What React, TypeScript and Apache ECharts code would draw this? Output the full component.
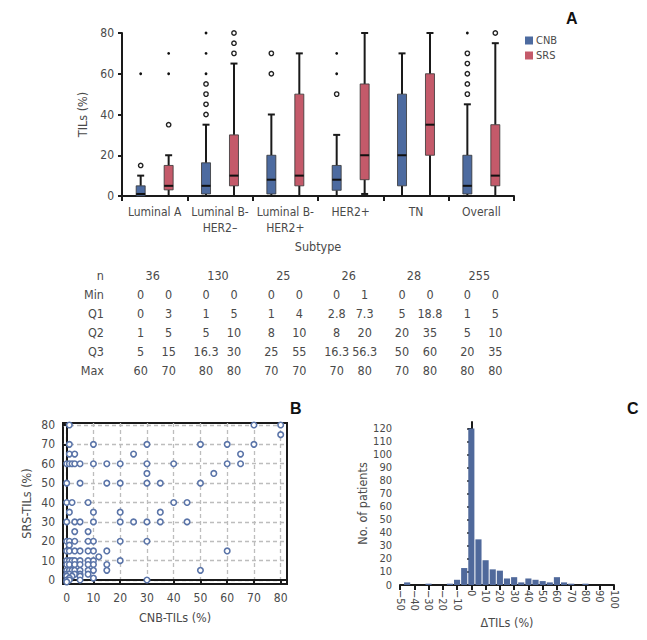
import { useEffect, useRef } from 'react';
import * as echarts from 'echarts';

const FONT = "'Liberation Sans Narrow', 'DejaVu Sans Condensed', 'Liberation Sans', sans-serif";
const TEXT = '#4a4a4a';
const CNB_COLOR = '#4d6ba0';
const SRS_COLOR = '#c45a6a';
const DOT_BLUE = '#5a74a8';
const HIST_COLOR = '#50699b';

// ---------- Panel A data ----------
const subtypes = ['Luminal A', 'Luminal B-\nHER2–', 'Luminal B-\nHER2+', 'HER2+', 'TN', 'Overall'];
// [whisker low, Q1, median, Q3, whisker high]
const cnbBox = [
  [0, 0, 1, 5, 10],
  [0, 1, 5, 16.3, 35],
  [0, 1, 8, 20, 40],
  [0, 2.8, 8, 15, 30],
  [0, 5, 20, 50, 70],
  [0, 1, 5, 20, 45],
];
const srsBox = [
  [0, 3, 5, 15, 20],
  [0, 5, 10, 30, 65],
  [0, 5, 10, 50, 70],
  [1, 8, 20, 55, 80],
  [0, 20, 35, 60, 80],
  [0, 5, 10, 35, 75],
];
const cnbOutOpen = [[0, 15], [1, 40], [1, 45], [1, 50], [1, 55], [2, 60], [2, 70], [3, 50], [5, 50], [5, 55], [5, 60], [5, 65], [5, 70]];
const cnbOutDot = [[0, 60], [1, 60], [1, 70], [1, 80], [3, 60], [3, 70], [5, 80]];
const srsOutOpen = [[0, 35], [1, 70], [1, 75], [1, 80], [5, 80]];
const srsOutDot = [[0, 60], [0, 70]];
const yTicksA = [0, 20, 40, 60, 80];

// ---------- Table data ----------
const tableN = [36, 130, 25, 26, 28, 255];
const rowLabels = ['Min', 'Q1', 'Q2', 'Q3', 'Max'];
const minCNB = [0, 0, 0, 0, 0, 0];
const minSRS = [0, 0, 0, 1, 0, 0];
const q1CNB = [0, 1, 1, 2.8, 5, 1];
const q1SRS = [3, 5, 4, 7.3, 18.8, 5];
const q2CNB = [1, 5, 8, 8, 20, 5];
const q2SRS = [5, 10, 10, 20, 35, 10];
const q3CNB = [5, 16.3, 25, 16.3, 50, 20];
const q3SRS = [15, 30, 55, 56.3, 60, 35];
const maxCNB = [60, 80, 70, 70, 70, 80];
const maxSRS = [70, 80, 70, 80, 80, 80];

// ---------- Panel B data ----------
const scatterTicks = [0, 10, 20, 30, 40, 50, 60, 70, 80];
const scatterPoints = [
  [1, 80], [70, 80], [80, 80], [80, 75],
  [1, 70], [10, 70], [30, 70], [50, 70], [60, 70], [70, 70],
  [1, 65], [3, 65], [25, 65], [65, 65],
  [0, 60], [1, 60], [2, 60], [3, 60], [5, 60], [10, 60], [15, 60], [20, 60], [30, 60], [40, 60], [60, 60], [65, 60],
  [30, 55], [55, 55],
  [0, 50], [5, 50], [15, 50], [20, 50], [30, 50], [35, 50], [50, 50],
  [0, 40], [2, 40], [8, 40], [40, 40], [45, 40],
  [1, 35], [10, 35], [20, 35], [35, 35],
  [0, 30], [3, 30], [5, 30], [10, 30], [20, 30], [25, 30], [30, 30], [35, 30], [45, 30],
  [3, 25], [8, 25],
  [0, 20], [1, 20], [3, 20], [8, 20], [10, 20], [20, 20], [30, 20],
  [1, 18],
  [0, 15], [1, 15], [3, 15], [5, 15], [8, 15], [10, 15], [15, 15], [60, 15],
  [12, 12],
  [0, 10], [1, 10], [2, 10], [3, 10], [5, 10], [8, 10], [10, 10], [20, 10],
  [0, 8], [1, 8], [3, 8], [5, 8], [8, 8], [10, 8], [15, 8],
  [0, 5], [1, 5], [2, 5], [3, 5], [5, 5], [8, 5], [10, 5], [15, 5], [50, 5],
  [0, 3], [1, 3], [3, 3], [5, 3], [8, 3],
  [0, 2], [2, 2], [5, 2],
  [1, 1], [10, 1],
  [0, 0], [1, 0], [5, 0], [30, 0], [0, -1],
];

// ---------- Panel C data ----------
const histBins = [-45, -30, -15, -10, -5, 0, 5, 10, 15, 20, 25, 30, 35, 40, 45, 50, 55, 60, 65, 70, 80];
const histCounts = [2, 1, 1, 4, 13, 120, 35, 19, 12, 11, 5, 6, 2, 5, 4, 3, 2, 6, 2, 1, 1];
const histYTicks = [0, 10, 20, 30, 40, 50, 60, 70, 80, 90, 100, 110, 120];
const histBinWidth = 5;

// layout
const A = { left: 122, top: 33, width: 392, height: 163 };
const B = { left: 63, top: 423, width: 224, height: 161 };
const C = { left: 400, top: 422, width: 214, height: 163 };
const SIDE_OFF = 0.214;

const fmt = (v: number) => (v < 0 ? '−' + Math.abs(v) : String(v));

function boxRender(side: number, color: string) {
  return (params: any, api: any) => {
    const cat = api.value(0);
    const band = api.size([1, 0])[0];
    const cx = api.coord([cat, 0])[0] + side * band * SIDE_OFF;
    const y = (i: number) => api.coord([cat, api.value(i)])[1];
    const yMin = y(1), yQ1 = y(2), yMed = y(3), yQ3 = y(4), yMax = y(5);
    const hw = 4.5, cw = 3.5;
    const ls = { stroke: '#1a1a1a', lineWidth: 2 };
    return {
      type: 'group',
      children: [
        { type: 'line', shape: { x1: cx, y1: yMin, x2: cx, y2: yQ1 }, style: ls },
        { type: 'line', shape: { x1: cx, y1: yQ3, x2: cx, y2: yMax }, style: ls },
        { type: 'line', shape: { x1: cx - cw, y1: yMax, x2: cx + cw, y2: yMax }, style: ls },
        { type: 'line', shape: { x1: cx - cw, y1: yMin, x2: cx + cw, y2: yMin }, style: ls },
        { type: 'rect', shape: { x: cx - hw, y: yQ3, width: hw * 2, height: yQ1 - yQ3 }, style: { fill: color, stroke: '#333', lineWidth: 0.8 } },
        { type: 'line', shape: { x1: cx - hw, y1: yMed, x2: cx + hw, y2: yMed }, style: { stroke: '#111', lineWidth: 2 } },
      ],
    };
  };
}

function outRender(side: number, open: boolean) {
  return (params: any, api: any) => {
    const band = api.size([1, 0])[0];
    const p = api.coord([api.value(0), api.value(1)]);
    const cx = p[0] + side * band * SIDE_OFF;
    return open
      ? { type: 'circle', shape: { cx, cy: p[1], r: 2.2 }, style: { fill: '#fff', stroke: '#222', lineWidth: 1.4 } }
      : { type: 'circle', shape: { cx, cy: p[1], r: 1.4 }, style: { fill: '#111' } };
  };
}

export default function App() {
  const ref = useRef<HTMLDivElement>(null);
  useEffect(() => {
    if (!ref.current) return;
    const chart = echarts.init(ref.current, undefined, { renderer: 'svg' });

    const band = A.width / subtypes.length;
    const tableTexts: any[] = [];
    const rowY0 = 275;
    const rowStep = 19;
    const labelStyle = { fontFamily: FONT, fontSize: 12.5, fill: TEXT };
    tableTexts.push({ type: 'text', x: 104, y: rowY0, style: { ...labelStyle, text: 'n', align: 'right', verticalAlign: 'middle' } });
    tableN.forEach((n, i) => {
      tableTexts.push({ type: 'text', x: A.left + band * (i + 0.5) - 2, y: rowY0, style: { ...labelStyle, text: String(n), align: 'center', verticalAlign: 'middle' } });
    });
    const rows = [[minCNB, minSRS], [q1CNB, q1SRS], [q2CNB, q2SRS], [q3CNB, q3SRS], [maxCNB, maxSRS]];
    rows.forEach((r, ri) => {
      const yy = rowY0 + rowStep * (ri + 1);
      tableTexts.push({ type: 'text', x: 104, y: yy, style: { ...labelStyle, text: rowLabels[ri], align: 'right', verticalAlign: 'middle' } });
      for (let i = 0; i < subtypes.length; i++) {
        const c = A.left + band * (i + 0.5);
        tableTexts.push({ type: 'text', x: c - band * SIDE_OFF, y: yy, style: { ...labelStyle, text: String(r[0][i]), align: 'center', verticalAlign: 'middle' } });
        tableTexts.push({ type: 'text', x: c + band * SIDE_OFF, y: yy, style: { ...labelStyle, text: String(r[1][i]), align: 'center', verticalAlign: 'middle' } });
      }
    });
    const letterStyle = { fontFamily: "'Liberation Sans', Arial, sans-serif", fontSize: 16, fontWeight: 'bold', fill: '#111' };
    const letters = [
      { type: 'text', x: 566, y: 10, style: { ...letterStyle, text: 'A' } },
      { type: 'text', x: 290, y: 400, style: { ...letterStyle, text: 'B' } },
      { type: 'text', x: 627, y: 400, style: { ...letterStyle, text: 'C' } },
    ];

    const axisLine = { show: true, lineStyle: { color: '#1a1a1a', width: 2 } };
    const axisTick = (len: number, extra: any = {}) => ({ show: true, length: len, lineStyle: { color: '#1a1a1a', width: 2 }, ...extra });
    const axLabel = (extra: any = {}) => ({ fontFamily: FONT, fontSize: 12, color: TEXT, ...extra });
    const nameStyle = { fontFamily: FONT, fontSize: 12.5, color: TEXT };

    chart.setOption({
      animation: false,
      textStyle: { fontFamily: FONT },
      grid: [
        { ...A, containLabel: false },
        { ...B, containLabel: false, show: true, borderColor: '#1a1a1a', borderWidth: 2, backgroundColor: 'transparent' },
        { ...C, containLabel: false },
      ],
      legend: {
        data: ['CNB', 'SRS'],
        orient: 'vertical',
        left: 520,
        top: 30,
        icon: 'rect',
        itemWidth: 8,
        itemHeight: 8,
        itemGap: 4,
        textStyle: { fontFamily: FONT, fontSize: 11, color: TEXT, padding: [0, 0, 0, -2] },
      },
      xAxis: [
        {
          gridIndex: 0,
          type: 'category',
          data: subtypes,
          boundaryGap: true,
          axisLine,
          axisTick: axisTick(5),
          axisLabel: axLabel({ fontSize: 12, lineHeight: 16, margin: 8, interval: 0 }),
          name: 'Subtype',
          nameLocation: 'middle',
          nameGap: 44,
          nameTextStyle: nameStyle,
        },
        {
          gridIndex: 1,
          type: 'value',
          min: -1.38,
          max: 82.36,
          axisLine,
          axisTick: axisTick(4, { customValues: scatterTicks }),
          axisLabel: axLabel({ fontSize: 12, margin: 8, customValues: scatterTicks }),
          splitLine: { show: true, lineStyle: { color: '#bdbdbd', width: 1.3, type: [4, 3] } },
          name: 'CNB-TILs (%)',
          nameLocation: 'middle',
          nameGap: 27,
          nameTextStyle: nameStyle,
        },
        {
          gridIndex: 2,
          type: 'value',
          min: -50,
          max: 100,
          interval: 10,
          axisLine,
          axisTick: axisTick(5),
          axisLabel: axLabel({ fontSize: 11, lineHeight: 12, margin: 5, rotate: -90, formatter: (v: number) => fmt(v) }),
          splitLine: { show: false },
          name: 'ΔTILs (%)',
          nameLocation: 'middle',
          nameGap: 31,
          nameTextStyle: nameStyle,
        },
      ],
      yAxis: [
        {
          gridIndex: 0,
          type: 'value',
          min: 0,
          max: 80,
          interval: 20,
          axisLine,
          axisTick: axisTick(4, { customValues: yTicksA }),
          axisLabel: axLabel({ fontSize: 12, margin: 8 }),
          splitLine: { show: false },
          name: 'TILs (%)',
          nameLocation: 'middle',
          nameGap: 30,
          nameTextStyle: nameStyle,
        },
        {
          gridIndex: 1,
          type: 'value',
          min: -2.06,
          max: 81.03,
          axisLine,
          axisTick: axisTick(4, { customValues: scatterTicks }),
          axisLabel: axLabel({ fontSize: 12, margin: 8, customValues: scatterTicks }),
          splitLine: { show: true, lineStyle: { color: '#bdbdbd', width: 1.3, type: [4, 3] } },
          name: 'SRS-TILs (%)',
          nameLocation: 'middle',
          nameGap: 30,
          nameTextStyle: nameStyle,
        },
        {
          gridIndex: 2,
          type: 'value',
          min: 0,
          max: 125,
          axisLine,
          axisTick: axisTick(4, { customValues: histYTicks }),
          axisLabel: axLabel({ fontSize: 11, lineHeight: 12, margin: 8, customValues: histYTicks }),
          splitLine: { show: false },
          name: 'No. of patients',
          nameLocation: 'middle',
          nameGap: 30,
          nameTextStyle: nameStyle,
        },
      ],
      series: [
        {
          name: 'CNB',
          type: 'custom',
          xAxisIndex: 0,
          yAxisIndex: 0,
          itemStyle: { color: CNB_COLOR },
          encode: { x: 0, y: [1, 2, 3, 4, 5] },
          data: cnbBox.map((b, i) => [i, ...b]),
          renderItem: boxRender(-1, CNB_COLOR),
        },
        {
          name: 'SRS',
          type: 'custom',
          xAxisIndex: 0,
          yAxisIndex: 0,
          itemStyle: { color: SRS_COLOR },
          encode: { x: 0, y: [1, 2, 3, 4, 5] },
          data: srsBox.map((b, i) => [i, ...b]),
          renderItem: boxRender(1, SRS_COLOR),
        },
        { name: 'cnbOpen', type: 'custom', xAxisIndex: 0, yAxisIndex: 0, encode: { x: 0, y: 1 }, data: cnbOutOpen, renderItem: outRender(-1, true) },
        { name: 'cnbDot', type: 'custom', xAxisIndex: 0, yAxisIndex: 0, encode: { x: 0, y: 1 }, data: cnbOutDot, renderItem: outRender(-1, false) },
        { name: 'srsOpen', type: 'custom', xAxisIndex: 0, yAxisIndex: 0, encode: { x: 0, y: 1 }, data: srsOutOpen, renderItem: outRender(1, true) },
        { name: 'srsDot', type: 'custom', xAxisIndex: 0, yAxisIndex: 0, encode: { x: 0, y: 1 }, data: srsOutDot, renderItem: outRender(1, false) },
        {
          name: 'scatter',
          type: 'scatter',
          xAxisIndex: 1,
          yAxisIndex: 1,
          symbol: 'circle',
          symbolSize: 5.5,
          itemStyle: { color: '#fff', borderColor: DOT_BLUE, borderWidth: 1.6, opacity: 1 },
          data: scatterPoints,
          z: 5,
        },
        {
          name: 'hist',
          type: 'custom',
          xAxisIndex: 2,
          yAxisIndex: 2,
          encode: { x: 0, y: 1 },
          data: histBins.map((b, i) => [b, histCounts[i]]),
          renderItem: (params: any, api: any) => {
            const x = api.value(0);
            const v = api.value(1);
            const p0 = api.coord([x - histBinWidth / 2, 0]);
            const p1 = api.coord([x + histBinWidth / 2, v]);
            return {
              type: 'rect',
              shape: { x: p0[0] + 0.5, y: p1[1], width: p1[0] - p0[0] - 1, height: p0[1] - p1[1] },
              style: { fill: HIST_COLOR },
            };
          },
        },
      ],
      graphic: [...tableTexts, ...letters],
    });
    return () => chart.dispose();
  }, []);
  return <div ref={ref} style={{ position: 'fixed', left: 0, top: 0, width: 647, height: 640, background: '#fff' }} />;
}
